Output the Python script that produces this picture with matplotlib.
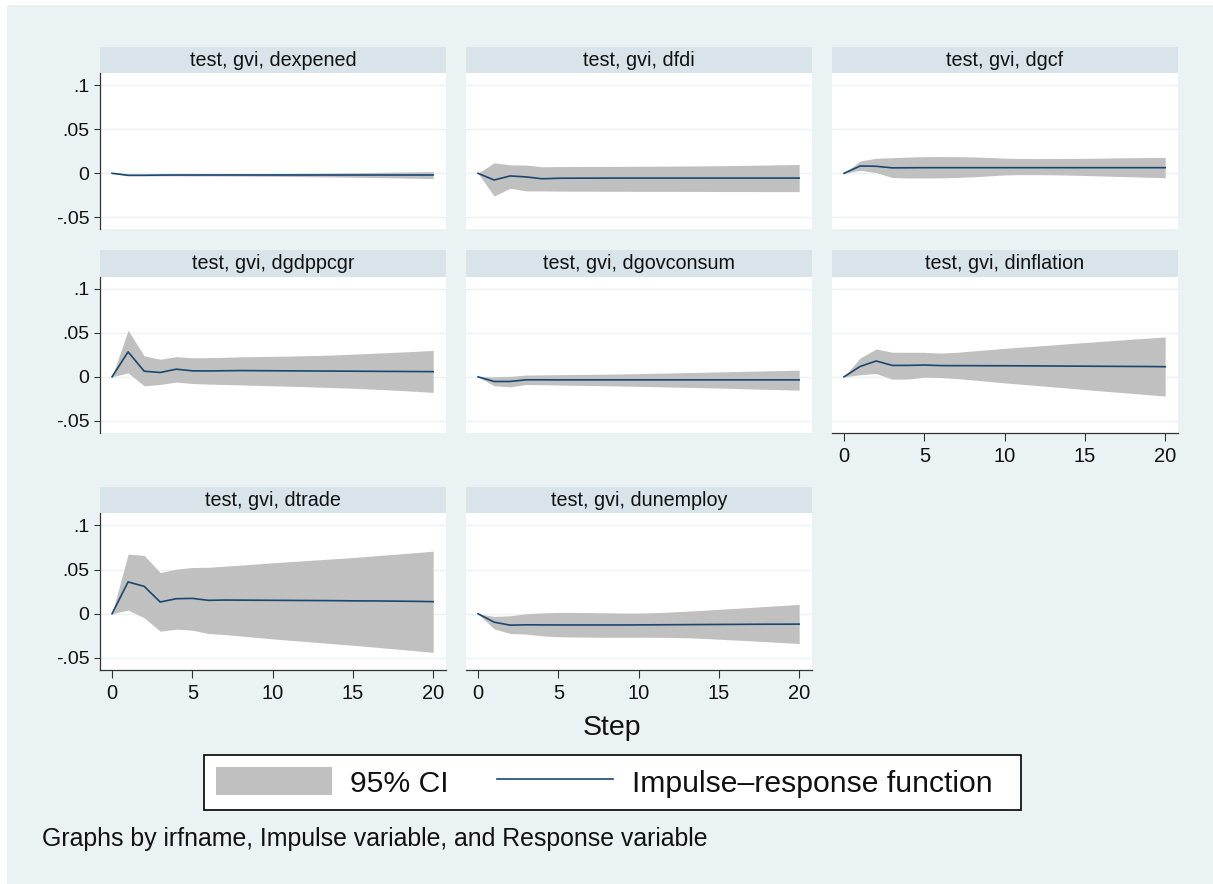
import matplotlib
matplotlib.use("Agg")
import matplotlib.pyplot as plt
from matplotlib.patches import Patch, Rectangle
from matplotlib.lines import Line2D

plt.rcParams['font.family'] = ['Liberation Sans', 'DejaVu Sans']

steps = list(range(21))
titles = ["test, gvi, dexpened", "test, gvi, dfdi", "test, gvi, dgcf",
          "test, gvi, dgdppcgr", "test, gvi, dgovconsum", "test, gvi, dinflation",
          "test, gvi, dtrade", "test, gvi, dunemploy"]

irf_dexpened = [0, -.0022, -.0022, -.0020, -.0019, -.0019, -.0019, -.0019, -.0019, -.0019, -.0019,
                -.0019, -.0019, -.0019, -.0019, -.0019, -.0019, -.0019, -.0019, -.0019, -.0019]
lo_dexpened = [0, -.0030, -.0030, -.0029, -.0029, -.0030, -.0030, -.0031, -.0032, -.0033, -.0034,
               -.0036, -.0038, -.0040, -.0042, -.0044, -.0047, -.0050, -.0053, -.0056, -.0060]
hi_dexpened = [0, -.0014, -.0013, -.0011, -.0010, -.0009, -.0008, -.0007, -.0006, -.0005, -.0004,
               -.0002, .0000, .0002, .0004, .0006, .0009, .0012, .0015, .0017, .0020]

irf_dfdi = [0, -.0076, -.0030, -.0041, -.0062, -.0056, -.0055, -.0055, -.0054, -.0054, -.0054,
            -.0054, -.0054, -.0054, -.0054, -.0054, -.0054, -.0054, -.0054, -.0054, -.0054]
hi_dfdi = [0, .0120, .0096, .0094, .0074, .0076, .0077, .0078, .0078, .0079, .0080,
           .0081, .0082, .0083, .0084, .0086, .0088, .0091, .0094, .0097, .0101]
lo_dfdi = [0, -.0258, -.0170, -.0200, -.0200, -.0202, -.0203, -.0203, -.0204, -.0204, -.0205,
           -.0205, -.0205, -.0206, -.0206, -.0207, -.0207, -.0207, -.0208, -.0208, -.0208]

irf_dgcf = [0, .0083, .0080, .0062, .0063, .0064, .0064, .0064, .0064, .0064, .0064,
            .0064, .0064, .0064, .0064, .0064, .0064, .0064, .0064, .0064, .0064]
hi_dgcf = [0, .0140, .0170, .0178, .0184, .0189, .0190, .0189, .0186, .0180, .0172,
           .0168, .0167, .0168, .0169, .0170, .0172, .0175, .0177, .0179, .0180]
lo_dgcf = [0, .0034, .0008, -.0048, -.0053, -.0053, -.0052, -.0047, -.0040, -.0030, -.0018,
           -.0015, -.0015, -.0017, -.0020, -.0025, -.0030, -.0035, -.0040, -.0045, -.0050]

irf_dgdppcgr = [0, .0284, .0064, .0049, .0087, .0068, .0067, .0069, .0071, .0070, .0069,
                .0068, .0067, .0066, .0065, .0064, .0063, .0062, .0061, .0060, .0059]
hi_dgdppcgr = [0, .0530, .0239, .0200, .0230, .0216, .0218, .0222, .0227, .0230, .0233,
               .0236, .0240, .0244, .0250, .0258, .0266, .0274, .0282, .0291, .0300]
lo_dgdppcgr = [0, .0045, -.0102, -.0087, -.0060, -.0076, -.0083, -.0087, -.0092, -.0097, -.0102,
               -.0107, -.0112, -.0118, -.0124, -.0130, -.0138, -.0147, -.0156, -.0166, -.0178]

irf_dgovconsum = [0, -.0053, -.0053, -.0034, -.0034, -.0035, -.0035, -.0035, -.0035, -.0035, -.0035,
                  -.0035, -.0035, -.0035, -.0035, -.0035, -.0035, -.0035, -.0035, -.0035, -.0035]
hi_dgovconsum = [0, .0000, .0005, .0020, .0022, .0024, .0026, .0028, .0030, .0033, .0036,
                 .0040, .0044, .0048, .0052, .0056, .0060, .0064, .0068, .0072, .0076]
lo_dgovconsum = [0, -.0102, -.0114, -.0087, -.0090, -.0093, -.0096, -.0099, -.0102, -.0105, -.0108,
                 -.0112, -.0116, -.0120, -.0124, -.0128, -.0133, -.0138, -.0142, -.0147, -.0152]

irf_dinflation = [0, .0118, .0180, .0130, .0130, .0134, .0128, .0127, .0127, .0126, .0126,
                  .0125, .0124, .0123, .0122, .0121, .0120, .0119, .0118, .0117, .0115]
hi_dinflation = [0, .0214, .0317, .0280, .0279, .0279, .0270, .0279, .0294, .0309, .0324,
                 .0337, .0350, .0363, .0377, .0390, .0403, .0416, .0429, .0441, .0454]
lo_dinflation = [0, .0023, .0038, -.0027, -.0025, -.0004, -.0008, -.0020, -.0035, -.0052, -.0069,
                 -.0084, -.0099, -.0114, -.0129, -.0145, -.0160, -.0175, -.0189, -.0204, -.0218]

irf_dtrade = [0, .0360, .0310, .0133, .0170, .0174, .0152, .0155, .0154, .0153, .0152,
              .0151, .0150, .0149, .0148, .0146, .0145, .0144, .0142, .0140, .0137]
hi_dtrade = [0, .0674, .0660, .0466, .0504, .0523, .0525, .0538, .0550, .0563, .0576,
             .0588, .0600, .0612, .0624, .0636, .0650, .0664, .0678, .0692, .0708]
lo_dtrade = [0, .0042, -.0045, -.0197, -.0174, -.0186, -.0223, -.0235, -.0251, -.0267, -.0284,
             -.0298, -.0313, -.0327, -.0342, -.0356, -.0372, -.0388, -.0404, -.0420, -.0436]

irf_dunemploy = [0, -.0095, -.0129, -.0125, -.0126, -.0127, -.0127, -.0127, -.0127, -.0127, -.0126,
                 -.0125, -.0124, -.0123, -.0122, -.0121, -.0120, -.0119, -.0118, -.0118, -.0117]
hi_dunemploy = [0, -.0030, -.0023, .0000, .0010, .0015, .0015, .0013, .0010, .0008, .0008,
                .0012, .0020, .0029, .0039, .0050, .0061, .0072, .0083, .0094, .0106]
lo_dunemploy = [0, -.0170, -.0223, -.0230, -.0250, -.0260, -.0263, -.0265, -.0266, -.0266, -.0265,
                -.0266, -.0268, -.0272, -.0278, -.0288, -.0297, -.0306, -.0316, -.0326, -.0337]

irfs = [irf_dexpened, irf_dfdi, irf_dgcf, irf_dgdppcgr, irf_dgovconsum, irf_dinflation, irf_dtrade, irf_dunemploy]
his = [hi_dexpened, hi_dfdi, hi_dgcf, hi_dgdppcgr, hi_dgovconsum, hi_dinflation, hi_dtrade, hi_dunemploy]
los = [lo_dexpened, lo_dfdi, lo_dgcf, lo_dgdppcgr, lo_dgovconsum, lo_dinflation, lo_dtrade, lo_dunemploy]

yticks = [-0.05, 0, 0.05, 0.1]
ytick_labels = ["-.05", "0", ".05", ".1"]
xticks = [0, 5, 10, 15, 20]
xtick_labels = ["0", "5", "10", "15", "20"]

W, H = 1213, 884
BG = "#eaf2f3"
STRIP = "#d8e4ea"
CI = "#c0c0c0"
LINE = "#1a476f"
AXC = "#333333"

fig = plt.figure(figsize=(W / 100, H / 100), dpi=100, facecolor="white")
fig.patches.append(Rectangle((7 / W, 0), 1, 1 - 5 / H, transform=fig.transFigure,
                             facecolor=BG, edgecolor="none", zorder=-10))


def px_axes(x0, y0, x1, y1):
    return fig.add_axes([x0 / W, 1 - y1 / H, (x1 - x0) / W, (y1 - y0) / H])


col_x = [(100, 446), (466, 812), (832, 1178)]
rows = [(46.7, 73.3, 229.3), (250.3, 277.0, 432.7), (487.3, 513.3, 670.0)]

for i in range(8):
    r, c = divmod(i, 3)
    x0, x1 = col_x[c]
    st, pt, pb = rows[r]
    sax = px_axes(x0, st, x1, pt)
    sax.set_facecolor(STRIP)
    sax.set_xticks([]); sax.set_yticks([])
    for s in sax.spines.values():
        s.set_visible(False)
    sax.text(0.5, 0.5, titles[i], ha="center", va="center", fontsize=14.2,
             color="#111111", transform=sax.transAxes)

    ax = px_axes(x0, pt, x1, pb)
    ax.set_facecolor("white")
    ax.fill_between(steps, los[i], his[i], color=CI, linewidth=0, zorder=2)
    ax.plot(steps, irfs[i], color=LINE, linewidth=1.2, zorder=3)
    ax.set_xlim(-0.75, 20.8)
    ax.set_ylim(-0.0636, 0.1136)
    ax.set_yticks(yticks)
    ax.set_xticks(xticks)
    ax.grid(axis="y", color=BG, linewidth=1.0, zorder=1)
    ax.grid(axis="x", visible=False)
    ax.set_axisbelow(True)
    for s in ax.spines.values():
        s.set_visible(False)
    show_y = (c == 0)
    show_x = i in (5, 6, 7)
    if show_y:
        ax.spines["left"].set_visible(True)
        ax.spines["left"].set_color(AXC)
        ax.spines["left"].set_linewidth(0.9)
        ax.set_yticklabels(ytick_labels, fontsize=14)
        ax.tick_params(axis="y", length=4, width=0.8, color=AXC, pad=3.5, labelcolor="#111111")
    else:
        ax.tick_params(axis="y", left=False, labelleft=False)
    if show_x:
        ax.spines["bottom"].set_visible(True)
        ax.spines["bottom"].set_color(AXC)
        ax.spines["bottom"].set_linewidth(0.9)
        ax.set_xticklabels(xtick_labels, fontsize=14.5)
        ax.tick_params(axis="x", length=5.5, width=0.8, color=AXC, pad=4.5, labelcolor="#111111")
    else:
        ax.tick_params(axis="x", bottom=False, labelbottom=False)

fig.text(612 / W, 1 - 728 / H, "Step", ha="center", va="center", fontsize=20.5, color="#111111")

# legend frame
fig.patches.append(Rectangle((204 / W, 1 - 810 / H), (1021 - 204) / W, (810 - 755) / H,
                             transform=fig.transFigure, facecolor="white", edgecolor="black",
                             linewidth=1.2, zorder=1))

handles = [Patch(facecolor=CI, edgecolor="none"),
           Line2D([0], [0], color=LINE, linewidth=1.2)]
leg = fig.legend(handles, ["95% CI", "Impulse\u2013response function"], loc="center left",
                 bbox_to_anchor=(205 / W, 1 - 782.5 / H), ncol=2, fontsize=21.7,
                 frameon=False, handlelength=3.85, handleheight=1.05, handletextpad=0.62,
                 columnspacing=1.6, borderpad=0.35, borderaxespad=0)
for t in leg.get_texts():
    t.set_color("#111111")

fig.text(42 / W, 1 - 839 / H, "Graphs by irfname, Impulse variable, and Response variable",
         ha="left", va="center", fontsize=17.9, color="#111111")

fig.savefig("out.png", dpi=100, facecolor=fig.get_facecolor())
